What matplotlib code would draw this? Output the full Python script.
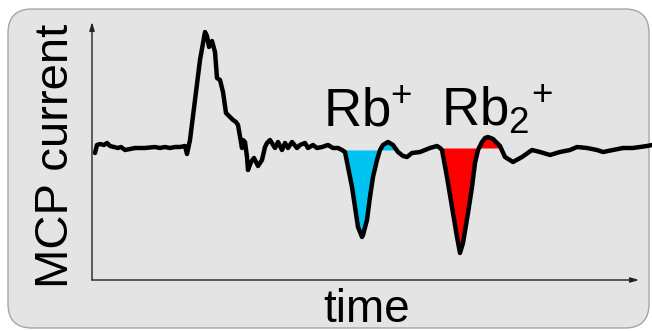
import numpy as np
import matplotlib
matplotlib.use("Agg")
import matplotlib.pyplot as plt
from matplotlib.patches import FancyBboxPatch
from matplotlib.transforms import IdentityTransform

plt.rcParams['font.family'] = ['Liberation Sans', 'DejaVu Sans']
plt.rcParams['mathtext.fontset'] = 'custom'
plt.rcParams['mathtext.rm'] = 'Liberation Sans'
plt.rcParams['mathtext.it'] = 'Liberation Sans:italic'

# MCP trace (arbitrary units), baseline at 0
t = [3, 5, 8, 12, 15, 18, 22, 26, 29, 33, 38, 43, 53, 63, 68, 73, 78, 83, 88, 93,
     95, 98, 103, 108, 113, 115, 117, 120, 123, 125, 128, 131, 134, 138, 141, 144,
     146, 150, 151, 153, 155, 156, 159, 162, 166, 170, 173, 175, 178, 183, 186, 190,
     193, 196, 200, 205, 208, 213, 216, 221, 225, 230, 236, 241, 246, 250,
     253, 256, 260, 263, 266, 270, 271, 275, 278, 281, 285, 288, 291, 296, 301, 306,
     311, 315, 320, 328, 333, 338, 345, 348, 350, 355, 360, 365, 368, 371, 376, 380,
     383, 386, 390, 393, 396, 401, 405, 408, 413, 421, 430, 440, 448, 458, 468, 478,
     485, 495, 505, 511, 521, 531, 541, 555, 560]
current = [-3, 5, 6, 5, 7, 4, 3, 2, 3, 0, 1, 2, 2, 3, 2, 3, 2, 3, 3, 4,
           -4, 10, 50, 90, 118, 114, 103, 109, 98, 72, 70, 58, 37, 33, 30, 28,
           25, 2, 10, 8, -7, -20, -12, -8, -16, -10, 3, 7, 10, 2, 8, 0, 7, 2, 8,
           2, 5, 7, 2, 5, 2, 3, 5, 2, 2, 0,
           -2, -17, -37, -57, -77, -87, -85, -70, -47, -27, -10, 0, 5, 8, 5, -2, -6,
           -7, -3, -2, 0, 2, 4, 2, 0, -27, -57, -87, -103, -93, -63, -37,
           -13, 0, 8, 12, 13, 11, 7, 4, -7, -12, -7, 0, -2, -5, -2, 0, 3, 2,
           0, -2, 0, 2, 2, 4, 5]

# shaded peaks: (start, stop, level, colour)
peaks = [(251, 303, 0, '#00c3f2'), (348, 410, 2, '#ff0000')]
peak_labels = ['Rb$^{+}$', 'Rb$_{2}{}^{+}$']
label_pos = [(323, 205), (441, 205)]

t = np.array(t, dtype=float)
current = np.array(current, dtype=float)

fig = plt.figure(figsize=(6.52, 3.31), dpi=100)
fig.patch.set_facecolor('white')

# rounded grey panel behind everything (pixel coordinates)
panel = FancyBboxPatch((8, 3), 641, 319, boxstyle='round,pad=0,rounding_size=24',
                       transform=IdentityTransform(), facecolor='#e4e4e4',
                       edgecolor='#a6a6a6', linewidth=1.0, zorder=0)
fig.add_artist(panel)

ax = fig.add_axes([92 / 652, 51 / 331, 560 / 652, 258 / 331])
ax.set_facecolor('none')
ax.set_xlim(0, 560)
ax.set_ylim(-130, 128)
for s in ax.spines.values():
    s.set_visible(False)
ax.set_xticks([])
ax.set_yticks([])

for (lo, hi, level, col) in peaks:
    mask = (t >= lo) & (t <= hi)
    ax.fill_between(t, current, level, where=mask, interpolate=True,
                    color=col, linewidth=0, zorder=2)

ax.plot(t, current, color='black', lw=3.2, solid_joinstyle='round',
        solid_capstyle='round', zorder=3, clip_on=False)

# axis arrows
arrow = dict(arrowstyle='-|>,head_length=0.5,head_width=0.15', color='#222222',
             lw=1.0, shrinkA=0, shrinkB=0)
ax.annotate('', xy=(547 / 560, 0), xytext=(0, 0), xycoords='axes fraction',
            arrowprops=arrow)
ax.annotate('', xy=(0, 1), xytext=(0, 0), xycoords='axes fraction',
            arrowprops=arrow)

for lab, (px, py) in zip(peak_labels, label_pos):
    fig.text(px / 652, py / 331, lab, fontsize=38, ha='left', va='baseline')

fig.text(367 / 652, 9 / 331, 'time', fontsize=33, ha='center', va='baseline')
fig.text(78 / 652, 175 / 331, 'MCP current', fontsize=34, rotation=90,
         ha='right', va='center')

fig.savefig('out.png', dpi=100)
